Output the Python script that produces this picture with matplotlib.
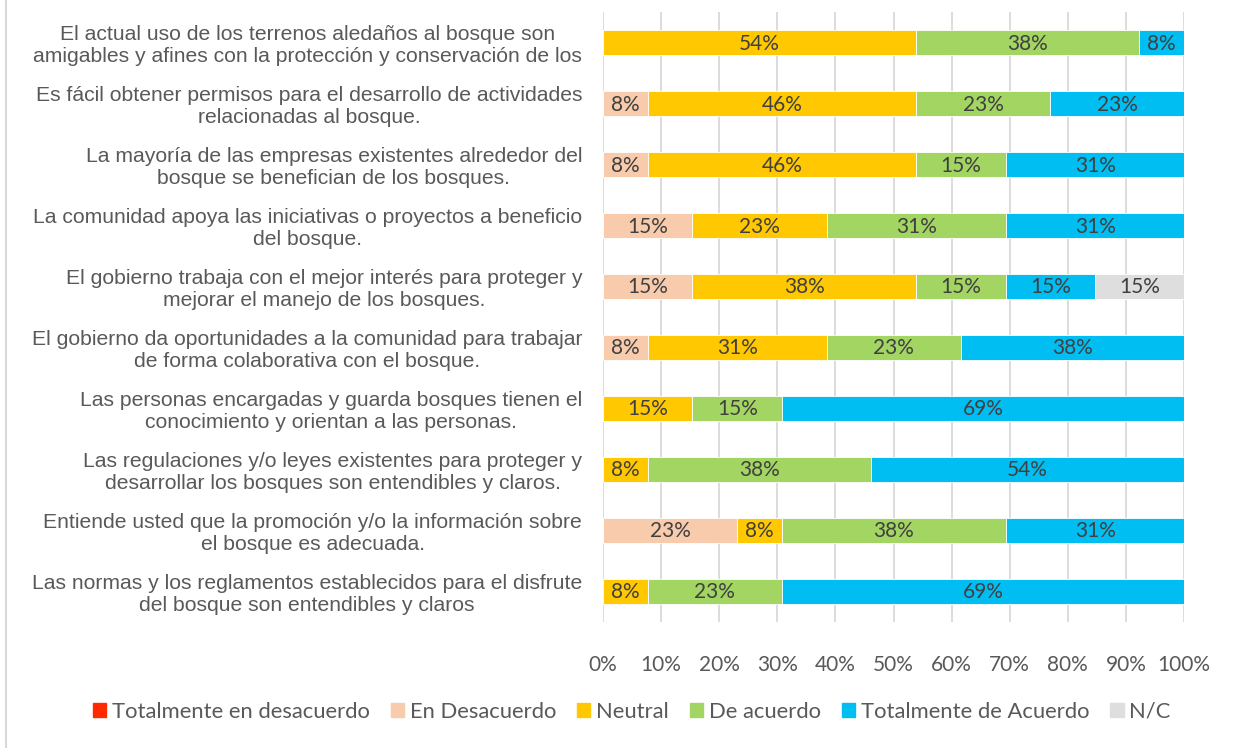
import matplotlib.pyplot as plt
from matplotlib.lines import Line2D
from matplotlib.patches import Patch

categorias = [
    "El actual uso de los terrenos aledaños al bosque son\namigables y afines con la protección y conservación de los",
    "Es fácil obtener permisos para el desarrollo de actividades\nrelacionadas al bosque.",
    "La mayoría de las empresas existentes alrededor del\nbosque se benefician de los bosques.",
    "La comunidad apoya las iniciativas o proyectos a beneficio\ndel bosque.",
    "El gobierno trabaja con el mejor interés para proteger y\nmejorar el manejo de los bosques.",
    "El gobierno da oportunidades a la comunidad para trabajar\nde forma colaborativa con el bosque.",
    "Las personas encargadas y guarda bosques tienen el\nconocimiento y orientan a las personas.",
    "Las regulaciones y/o leyes existentes para proteger y\ndesarrollar los bosques son entendibles y claros.",
    "Entiende usted que la promoción y/o la información sobre\nel bosque es adecuada.",
    "Las normas y los reglamentos establecidos para el disfrute\ndel bosque son entendibles y claros",
]

series = ["Totalmente en desacuerdo", "En Desacuerdo", "Neutral", "De acuerdo",
          "Totalmente de Acuerdo", "N/C"]
colores = ["#FF2A00", "#F8CBAD", "#FFC800", "#A2D562", "#00BDF2", "#DEDEDE"]

tot_desacuerdo = [0, 0, 0, 0, 0, 0, 0, 0, 0, 0]
en_desacuerdo = [0, 7.7, 7.7, 15.4, 15.4, 7.7, 0, 0, 23.1, 0]
neutral = [53.8, 46.2, 46.2, 23.1, 38.5, 30.8, 15.4, 7.7, 7.7, 7.7]
de_acuerdo = [38.5, 23.1, 15.4, 30.8, 15.4, 23.1, 15.4, 38.5, 38.5, 23.1]
tot_acuerdo = [7.7, 23.1, 30.8, 30.8, 15.4, 38.5, 69.2, 53.8, 30.8, 69.2]
nc = [0, 0, 0, 0, 15.4, 0, 0, 0, 0, 0]

valores = [tot_desacuerdo, en_desacuerdo, neutral, de_acuerdo, tot_acuerdo, nc]

fig = plt.figure(figsize=(12.33, 7.48), dpi=100)
ax = fig.add_axes([603 / 1233, 1 - 621.5 / 748, 581 / 1233, 609.5 / 748])

y = list(range(len(categorias)))
izq = [0] * len(categorias)
for nombre, vals, col in zip(series, valores, colores):
    ax.barh(y, vals, left=izq, height=0.41, color=col, edgecolor="white",
            linewidth=0.6, label=nombre, zorder=2)
    for i, v in enumerate(vals):
        if v > 0:
            ax.text(izq[i] + v / 2, i + 0.02, f"{round(v)}%", ha="center", va="center",
                    fontsize=15, color="#404040", family="Lato", zorder=3)
    izq = [a + b for a, b in zip(izq, vals)]

ax.set_xlim(0, 100)
ax.set_ylim(len(categorias) - 0.5, -0.5)
ax.set_xticks(range(0, 101, 10))
ax.set_xticklabels([f"{t}%" for t in range(0, 101, 10)], family="Lato",
                   fontsize=15, color="#595959")
ax.set_yticks(y)
ax.set_yticklabels(categorias, fontsize=15.2, color="#595959",
                   family="Liberation Sans", ha="right", multialignment="center",
                   linespacing=1.2)
ax.tick_params(axis="y", length=0, pad=15)
ax.tick_params(axis="x", length=0, pad=24)
ax.xaxis.grid(True, color="#D9D9D9", linewidth=1.3, zorder=0)
for s in ax.spines.values():
    s.set_visible(False)

handles = [Patch(color=c) for c in colores]
leg = fig.legend(handles, series, loc="center", bbox_to_anchor=(632 / 1233, 1 - 712 / 748),
                 ncol=6, frameon=False, handlelength=0.6, handleheight=0.6,
                 handletextpad=0.27, columnspacing=0.95,
                 prop={"family": "Lato", "size": 15.8})
for t in leg.get_texts():
    t.set_color("#595959")

fig.add_artist(Line2D([6 / 1233, 6 / 1233], [0, 1], color="#D9D9D9", linewidth=1.5))

fig.savefig("out.png", dpi=100)
